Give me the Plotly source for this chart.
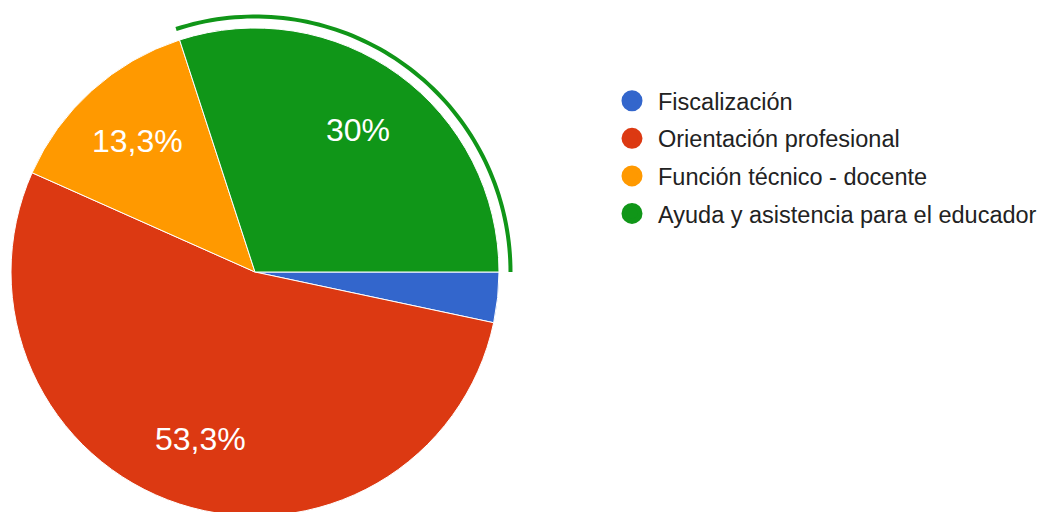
import math
import plotly.graph_objects as go

categories = ["Fiscalización", "Orientación profesional", "Función técnico - docente", "Ayuda y asistencia para el educador"]
counts = [1, 16, 4, 9]
colors = ["#3366cc", "#dc3912", "#ff9900", "#109618"]
highlight_index = 3

W, H = 1050, 512
CX, CY, R = 247, 264, 244  # pixel centre (from top of figure) and radius of the pie
START_DEG = 90  # first slice starts at 3 o'clock, clockwise

total = sum(counts)

def fmt(v):
    p = round(v / total * 100, 1)
    s = f"{p:.1f}"
    if s.endswith(".0"):
        s = s[:-2]
    return s.replace(".", ",") + "%"

fig = go.Figure()

fig.add_trace(go.Pie(
    labels=categories, values=counts, sort=False, direction="clockwise",
    rotation=START_DEG, marker=dict(colors=colors, line=dict(color="white", width=1)),
    textinfo="none", showlegend=False, hoverinfo="label+percent",
    domain=dict(x=[(CX - R) / W, (CX + R) / W], y=[(H - CY - R) / H, (H - CY + R) / H]),
))

# legend entries with circle symbols
for name, col in zip(categories, colors):
    fig.add_trace(go.Scatter(x=[None], y=[None], mode="markers", name=name, legendgroup=name,
                             marker=dict(color=col, size=16, symbol="circle",
                                         line=dict(color=col, width=5))))

def to_paper(px, py):
    return px / W, 1 - py / H

# slice label annotations on the bisector
cum = 0
annotations = []
angles = []
for i, v in enumerate(counts):
    a0 = START_DEG + cum / total * 360
    cum += v
    a1 = START_DEG + cum / total * 360
    angles.append((a0, a1))
    if v / total >= 0.05:
        mid = math.radians((a0 + a1) / 2)
        px = CX + 0.72 * R * math.sin(mid)
        py = CY - 0.72 * R * math.cos(mid)
        x, y = to_paper(px, py)
        annotations.append(dict(x=x, y=y, xref="paper", yref="paper", text=fmt(v), showarrow=False,
                                xanchor="center", yanchor="middle",
                                font=dict(color="white", size=32, family="Arial, Liberation Sans")))

# highlight ring outside the selected slice
a0, a1 = angles[highlight_index]
r_in, r_out = R + 9.5, R + 13.5
n = 80
pts = []
for k in range(n + 1):
    a = math.radians(a0 + (a1 - a0) * k / n)
    pts.append(to_paper(CX + r_out * math.sin(a), CY - r_out * math.cos(a)))
for k in range(n, -1, -1):
    a = math.radians(a0 + (a1 - a0) * k / n)
    pts.append(to_paper(CX + r_in * math.sin(a), CY - r_in * math.cos(a)))
path = "M " + " L ".join(f"{x:.5f},{y:.5f}" for x, y in pts) + " Z"

fig.update_layout(
    width=W, height=H, margin=dict(l=0, r=0, t=0, b=0),
    paper_bgcolor="white", plot_bgcolor="white",
    xaxis=dict(visible=False), yaxis=dict(visible=False),
    shapes=[dict(type="path", path=path, xref="paper", yref="paper",
                 fillcolor=colors[highlight_index], line=dict(width=0))],
    annotations=annotations,
    legend=dict(x=598 / W, y=1 - 71 / H, xanchor="left", yanchor="top", itemsizing="trace",
                itemwidth=42, tracegroupgap=4,
                font=dict(size=23.5, color="#222222", family="Arial, Liberation Sans"),
                bgcolor="rgba(0,0,0,0)"),
    font=dict(family="Arial, Liberation Sans"),
)

fig.write_html("out.html")
